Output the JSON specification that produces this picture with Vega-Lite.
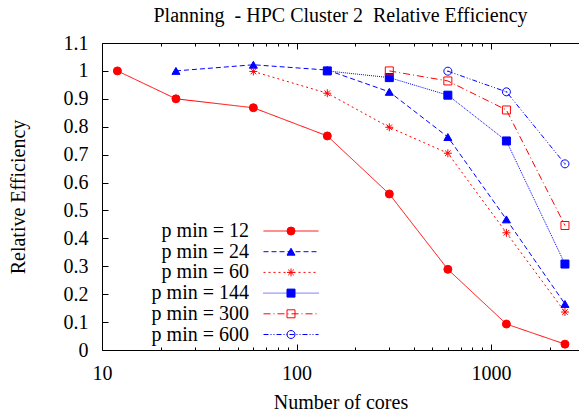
{
  "$schema": "https://vega.github.io/schema/vega-lite/v6.json",
  "width": 477,
  "height": 307,
  "autosize": {"type": "none"},
  "padding": {"left": 102, "top": 43, "right": 0, "bottom": 63},
  "title": {"text": "Planning \u00a0- HPC Cluster 2 \u00a0Relative Efficiency", "font": "Liberation Serif", "fontSize": 20, "fontWeight": "normal", "color": "black", "baseline": "alphabetic", "offset": -9},
  "config": {
    "font": "Liberation Serif",
    "view": {"stroke": null},
    "axis": {"labelFont": "Liberation Serif", "titleFont": "Liberation Serif", "labelFontSize": 20, "titleFontSize": 20, "titleFontWeight": "normal", "labelColor": "black", "titleColor": "black", "domainColor": "black", "tickColor": "black", "grid": false, "domainWidth": 1, "tickWidth": 1},
    "legend": {"labelFont": "Liberation Serif", "labelFontSize": 20, "labelColor": "black"}
  },
  "data": {"values": [
    {"series": "p min = 12", "cores": 12, "eff": 1.0},
    {"series": "p min = 12", "cores": 24, "eff": 0.90},
    {"series": "p min = 12", "cores": 60, "eff": 0.868},
    {"series": "p min = 12", "cores": 144, "eff": 0.767},
    {"series": "p min = 12", "cores": 300, "eff": 0.559},
    {"series": "p min = 12", "cores": 600, "eff": 0.289},
    {"series": "p min = 12", "cores": 1200, "eff": 0.093},
    {"series": "p min = 12", "cores": 2400, "eff": 0.021},
    {"series": "p min = 24", "cores": 24, "eff": 1.0},
    {"series": "p min = 24", "cores": 60, "eff": 1.022},
    {"series": "p min = 24", "cores": 144, "eff": 1.003},
    {"series": "p min = 24", "cores": 300, "eff": 0.925},
    {"series": "p min = 24", "cores": 600, "eff": 0.763},
    {"series": "p min = 24", "cores": 1200, "eff": 0.468},
    {"series": "p min = 24", "cores": 2400, "eff": 0.165},
    {"series": "p min = 60", "cores": 60, "eff": 0.998},
    {"series": "p min = 60", "cores": 144, "eff": 0.92},
    {"series": "p min = 60", "cores": 300, "eff": 0.798},
    {"series": "p min = 60", "cores": 600, "eff": 0.705},
    {"series": "p min = 60", "cores": 1200, "eff": 0.42},
    {"series": "p min = 60", "cores": 2400, "eff": 0.136},
    {"series": "p min = 144", "cores": 144, "eff": 1.0},
    {"series": "p min = 144", "cores": 300, "eff": 0.976},
    {"series": "p min = 144", "cores": 600, "eff": 0.913},
    {"series": "p min = 144", "cores": 1200, "eff": 0.749},
    {"series": "p min = 144", "cores": 2400, "eff": 0.308},
    {"series": "p min = 300", "cores": 300, "eff": 1.0},
    {"series": "p min = 300", "cores": 600, "eff": 0.964},
    {"series": "p min = 300", "cores": 1200, "eff": 0.86},
    {"series": "p min = 300", "cores": 2400, "eff": 0.446},
    {"series": "p min = 600", "cores": 600, "eff": 0.999},
    {"series": "p min = 600", "cores": 1200, "eff": 0.925},
    {"series": "p min = 600", "cores": 2400, "eff": 0.667}
  ]},
  "resolve": {"axis": {"x": "independent"}},
  "layer": [
    {
      "mark": {"type": "line", "strokeWidth": 1},
      "encoding": {
        "x": {"field": "cores", "type": "quantitative",
          "scale": {"type": "log", "domain": [10, 2834], "nice": false},
          "axis": {"orient": "bottom", "title": "Number of cores", "titlePadding": 6,
            "values": [10,20,30,40,50,60,70,80,90,100,200,300,400,500,600,700,800,900,1000,2000],
            "labelExpr": "datum.value == 10 || datum.value == 100 || datum.value == 1000 ? format(datum.value, 'd') : ''",
            "labelOverlap": false, "labelFlush": false, "labelPadding": 19,
            "tickSize": {"condition": {"test": "datum.value == 10 || datum.value == 100 || datum.value == 1000", "value": -6}, "value": -3}}},
        "y": {"field": "eff", "type": "quantitative",
          "scale": {"domain": [0, 1.1], "nice": false, "zero": true},
          "axis": {"title": "Relative Efficiency", "values": [0,0.1,0.2,0.3,0.4,0.5,0.6,0.7,0.8,0.9,1,1.1], "format": ".1~f", "tickSize": -6, "labelPadding": 20, "titlePadding": 35, "labelOverlap": false, "labelFlush": false}},
        "color": {"field": "series", "type": "nominal",
          "scale": {"domain": ["p min = 12","p min = 24","p min = 60","p min = 144","p min = 300","p min = 600"], "range": ["#ff0000","#0000ff","#ff0000","#0000ff","#ff0000","#0000ff"]},
          "legend": {"orient": "none", "legendX": 179, "legendY": 178, "title": null, "padding": 0, "symbolType": "M-5,0H5", "symbolSize": 121, "symbolStrokeWidth": 1, "labelAlign": "right", "labelOffset": -52, "rowPadding": 0.7}},
        "strokeDash": {"field": "series", "type": "nominal",
          "scale": {"domain": ["p min = 12","p min = 24","p min = 60","p min = 144","p min = 300","p min = 600"], "range": [[1,0],[5,3],[2,3],[1,1],[7,3,1,3],[5,2,1,2,1,2]]},
          "legend": {"orient": "none", "legendX": 179, "legendY": 178, "title": null, "padding": 0, "symbolType": "M-5,0H5", "symbolSize": 121, "symbolStrokeWidth": 1, "labelAlign": "right", "labelOffset": -52, "rowPadding": 0.7}}
      }
    },
    {
      "mark": {"type": "point", "strokeWidth": 1, "opacity": 1, "size": 64},
      "encoding": {
        "x": {"field": "cores", "type": "quantitative",
          "scale": {"type": "log", "domain": [10, 2834], "nice": false},
          "axis": {"orient": "top", "title": null, "labels": false,
            "values": [10,20,30,40,50,60,70,80,90,100,200,300,400,500,600,700,800,900,1000,2000],
            "tickSize": {"condition": {"test": "datum.value == 10 || datum.value == 100 || datum.value == 1000", "value": -6}, "value": -3}}},
        "y": {"field": "eff", "type": "quantitative",
          "scale": {"domain": [0, 1.1], "nice": false, "zero": true},
          "axis": {"title": "Relative Efficiency", "values": [0,0.1,0.2,0.3,0.4,0.5,0.6,0.7,0.8,0.9,1,1.1], "format": ".1~f", "tickSize": -6, "labelPadding": 20, "titlePadding": 35, "labelOverlap": false, "labelFlush": false}},
        "shape": {"field": "series", "type": "nominal",
          "sort": {"field": "cores", "op": "min"},
          "scale": {"range": ["circle", "triangle-up", "M-1,0H1M0,-1V1M-0.7,-0.7L0.7,0.7M-0.7,0.7L0.7,-0.7", "square", "square", "M1,0A1,1,0,1,1,-1,0A1,1,0,1,1,1,0M-0.2,0H0.2"]},
          "legend": {"orient": "none", "legendX": 179, "legendY": 178, "title": null, "padding": 0, "symbolSize": 64, "symbolStrokeWidth": 1, "labelAlign": "right", "labelOffset": -52, "rowPadding": 0.7, "labelOpacity": 0}},
        "fill": {"field": "series", "type": "nominal",
          "sort": {"field": "cores", "op": "min"},
          "scale": {"range": ["#ff0000","#0000ff","transparent","#0000ff","transparent","transparent"]},
          "legend": {"orient": "none", "legendX": 179, "legendY": 178, "title": null, "padding": 0, "symbolSize": 64, "symbolStrokeWidth": 1, "labelAlign": "right", "labelOffset": -52, "rowPadding": 0.7, "labelOpacity": 0}},
        "stroke": {"field": "series", "type": "nominal",
          "sort": {"field": "cores", "op": "min"},
          "scale": {"range": ["#ff0000","#0000ff","#ff0000","#0000ff","#ff0000","#0000ff"]},
          "legend": {"orient": "none", "legendX": 179, "legendY": 178, "title": null, "padding": 0, "symbolSize": 64, "symbolStrokeWidth": 1, "labelAlign": "right", "labelOffset": -52, "rowPadding": 0.7, "labelOpacity": 0}}
      }
    }
  ]
}
